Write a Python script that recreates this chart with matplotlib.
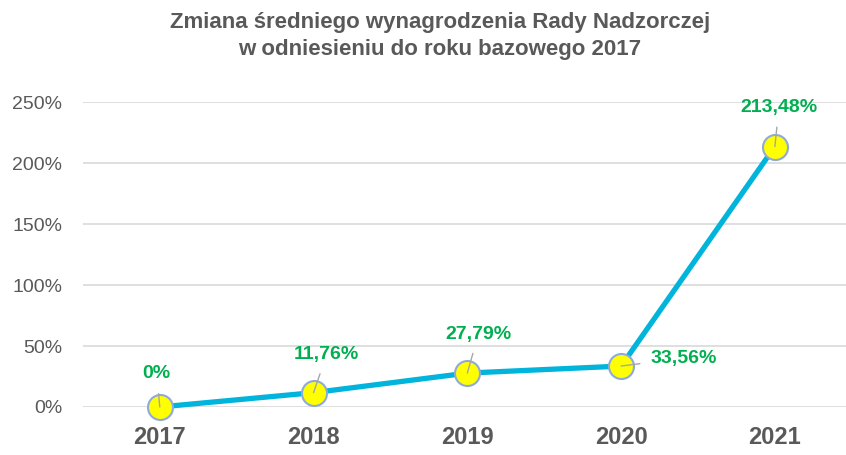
import matplotlib.pyplot as plt
from matplotlib.ticker import FuncFormatter

plt.rcParams['font.family'] = ['Liberation Sans Narrow', 'Liberation Sans', 'DejaVu Sans']

years = ['2017', '2018', '2019', '2020', '2021']
change = [0.0, 11.76, 27.79, 33.56, 213.48]
labels = ['0%', '11,76%', '27,79%', '33,56%', '213,48%']
# label offsets in pixels relative to the marker
offs = [(-3, 33), (13, 38), (11, 39), (63, 8), (4, 39)]

fig = plt.figure(figsize=(8.46, 4.55), dpi=100)
ax = fig.add_axes([0.098, 0.1055, 0.907, 0.6703])

x = range(len(years))
ax.plot(x, change, color='#00B4DC', linewidth=3.8, zorder=3, clip_on=False,
        marker='o', markersize=18, markerfacecolor='#FFFF00',
        markeredgecolor='#8EA9DB', markeredgewidth=1.5)

for i, (v, lab) in enumerate(zip(change, labels)):
    dx, dy = offs[i]
    ax.annotate(lab, xy=(i, v), xytext=(dx * 0.72, dy * 0.72), textcoords='offset points',
                ha='center', va='center', color='#00B050', fontsize=14, fontweight='bold',
                arrowprops=dict(arrowstyle='-', color='#A6A6A6', lw=1, shrinkA=6, shrinkB=0),
                zorder=5, annotation_clip=False)

ax.set_xlim(-0.5, 4.49)
ax.set_ylim(0, 250)
ax.set_yticks([0, 50, 100, 150, 200, 250])
ax.yaxis.set_major_formatter(FuncFormatter(lambda v, p: f'{v:.0f}%'))
ax.set_xticks(list(x))
ax.set_xticklabels(years)
ax.grid(axis='y', color='#D9D9D9', linewidth=1.2)
ax.set_axisbelow(True)
for s in ax.spines.values():
    s.set_visible(False)
ax.tick_params(axis='both', length=0)
ax.tick_params(axis='y', labelsize=14, labelcolor='#595959', pad=15)
ax.tick_params(axis='x', labelsize=17, labelcolor='#595959', pad=14)
for t in ax.get_xticklabels():
    t.set_fontweight('bold')

fig.text(0.52, 0.921, 'Zmiana średniego wynagrodzenia Rady Nadzorczej\nw odniesieniu do roku bazowego 2017',
         ha='center', va='center', fontsize=16, fontweight='bold', color='#595959', linespacing=1.4)

fig.savefig('out.png', dpi=100)
